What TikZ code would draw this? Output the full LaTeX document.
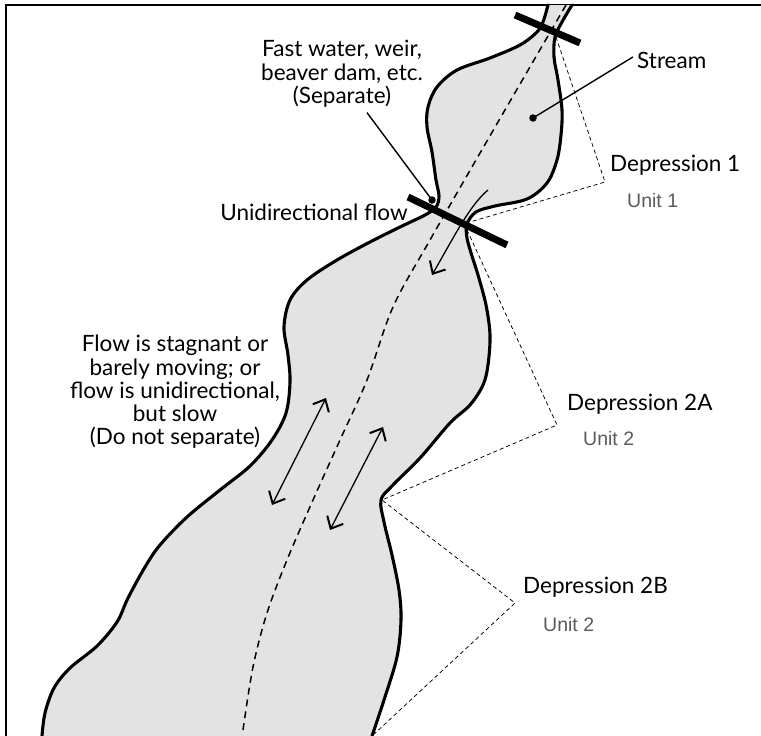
\documentclass[tikz,border=0pt]{standalone}
\usepackage{fontspec}
\setmainfont{Lato}
\newfontfamily\unitfont{Liberation Sans}
\usetikzlibrary{arrows.meta}
\definecolor{streamfill}{RGB}{227,227,227}
\definecolor{unitgray}{RGB}{90,90,90}
\begin{document}
\begin{tikzpicture}[x=1pt,y=-1pt,
  bank/.style={line width=3.1pt, line join=round, line cap=round},
  bar/.style={line width=7pt},
  outline/.style={dash pattern=on 4pt off 3pt, line width=0.75pt},
  centreline/.style={dash pattern=on 7pt off 5pt, line width=1.5pt},
  leader/.style={line width=1.4pt},
  flowarrow/.style={line width=1.3pt, -{Straight Barb[length=10pt,width=18pt,line width=2pt]}},
  twoway/.style={line width=1.3pt, {Straight Barb[length=10pt,width=18pt,line width=2pt]}-{Straight Barb[length=10pt,width=18pt,line width=2pt]}},
  dot/.style={circle, fill=black, inner sep=0pt, minimum size=7.5pt},
  lbl/.style={font=\fontsize{22.5}{23.3}\selectfont, align=center, inner sep=0pt},
  unitlbl/.style={font=\unitfont\fontsize{19.5}{21}\selectfont, text=unitgray, inner sep=0pt}
]
\useasboundingbox (0,0) rectangle (761,736);

% frame
\draw[line width=2pt] (6,736) -- (6,5) -- (761,5);

% stream body
\fill[streamfill]
  plot[smooth,tension=0.55] coordinates {(548,5) (543,22) (537,32) (520,45) (490,58) (457,70) (437,87) (428,107) (427,127) (432,152) (436,180) (439,196) (436,207) (425,215) (400,227) (370,242) (337,260) (307,280) (290,300) (284,327) (288,355) (290,382) (286,413) (272,440) (250,466) (220,490) (187,517) (160,545) (145,567) (128,598) (117,622) (97,646) (70,668) (54,688) (45,713) (42,736)}
  -- plot[smooth,tension=0.55] coordinates {(372,736) (384,700) (397,657) (401,620) (399,590) (392,555) (384,522) (381,500) (392,486) (420,458) (450,423) (470,405) (483,385) (488,365) (490,335) (486,305) (478,275) (472,256) (467,238) (467,224) (476,212) (495,206) (527,199) (547,183) (557,160) (561,135) (562,110) (558,80) (554,57) (555,37) (562,22) (572,5)}
  -- cycle;
\draw[bank] plot[smooth,tension=0.55] coordinates {(548,5) (543,22) (537,32) (520,45) (490,58) (457,70) (437,87) (428,107) (427,127) (432,152) (436,180) (439,196) (436,207) (425,215) (400,227) (370,242) (337,260) (307,280) (290,300) (284,327) (288,355) (290,382) (286,413) (272,440) (250,466) (220,490) (187,517) (160,545) (145,567) (128,598) (117,622) (97,646) (70,668) (54,688) (45,713) (42,736)};
\draw[bank] plot[smooth,tension=0.55] coordinates {(372,736) (384,700) (397,657) (401,620) (399,590) (392,555) (384,522) (381,500) (392,486) (420,458) (450,423) (470,405) (483,385) (488,365) (490,335) (486,305) (478,275) (472,256) (467,238) (467,224) (476,212) (495,206) (527,199) (547,183) (557,160) (561,135) (562,110) (558,80) (554,57) (555,37) (562,22) (572,5)};

% centre line
\draw[centreline] plot[smooth,tension=0.55] coordinates {(566,5) (498,122) (430,240) (393,307) (367,380) (340,440) (313,500) (287,560) (267,613) (253,667) (243,730)};

% depression outlines
\coordinate (d1a) at (556,37);
\coordinate (d1tip) at (605,182);
\coordinate (d1b) at (470,222);
\coordinate (d2a) at (467,230);
\coordinate (d2atip) at (557,425);
\coordinate (notch) at (382,500);
\coordinate (d2btip) at (515,603);
\coordinate (d2bend) at (372,736);
\draw[outline] (d1a) -- (d1tip) -- (d1b);
\draw[outline] (d2a) -- (d2atip) -- (notch) -- (d2btip) -- (d2bend);

% flow arrows
\coordinate (fa1) at (488,190);
\coordinate (fa2) at (432,275);
\draw[flowarrow] (fa1) .. controls (470,205) and (455,235) .. (fa2);
\coordinate (t1a) at (326,398);
\coordinate (t1b) at (272,505);
\draw[twoway] (t1a) -- (t1b);
\coordinate (t2a) at (383,427);
\coordinate (t2b) at (330,530);
\draw[twoway] (t2a) -- (t2b);

% separation bars
\coordinate (b1a) at (515,15);
\coordinate (b1b) at (580,43);
\draw[bar] (b1a) -- (b1b);
\coordinate (b2a) at (408,197);
\coordinate (b2b) at (507,245);
\draw[bar] (b2a) -- (b2b);

% callout dots
\node[dot] (streamdot) at (533,118) {};
\node[dot] (weirdot) at (432,200) {};

% labels
\node[lbl] (fast) at (342,74) {Fast water, weir,\\beaver dam, etc.\\(Separate)};
\node[lbl, anchor=base] (unidir) at (314,220) {Unidirectional flow};
\node[lbl, anchor=base west] (stream) at (637,68) {Stream};
\node[lbl, anchor=base west] (dep1) at (610,171) {Depression 1};
\node[unitlbl, anchor=base west] (unit1) at (627,207) {Unit 1};
\node[lbl, anchor=base west] (dep2a) at (567,410) {Depression 2A};
\node[unitlbl, anchor=base west] (unit2a) at (583,445) {Unit 2};
\node[lbl, anchor=base west] (dep2b) at (523,593) {Depression 2B};
\node[unitlbl, anchor=base west] (unit2b) at (543,631) {Unit 2};
\node[lbl] (slow) at (175,392) {Flow is stagnant or\\barely moving; or\\flow is unidirectional,\\but slow\\(Do not separate)};

% leaders
\draw[leader] (streamdot.center) -- ([shift={(-4,-3)}]stream.west);
\draw[leader] ([shift={(25,5)}]fast.south) -- (weirdot.center);
\end{tikzpicture}
\end{document}
